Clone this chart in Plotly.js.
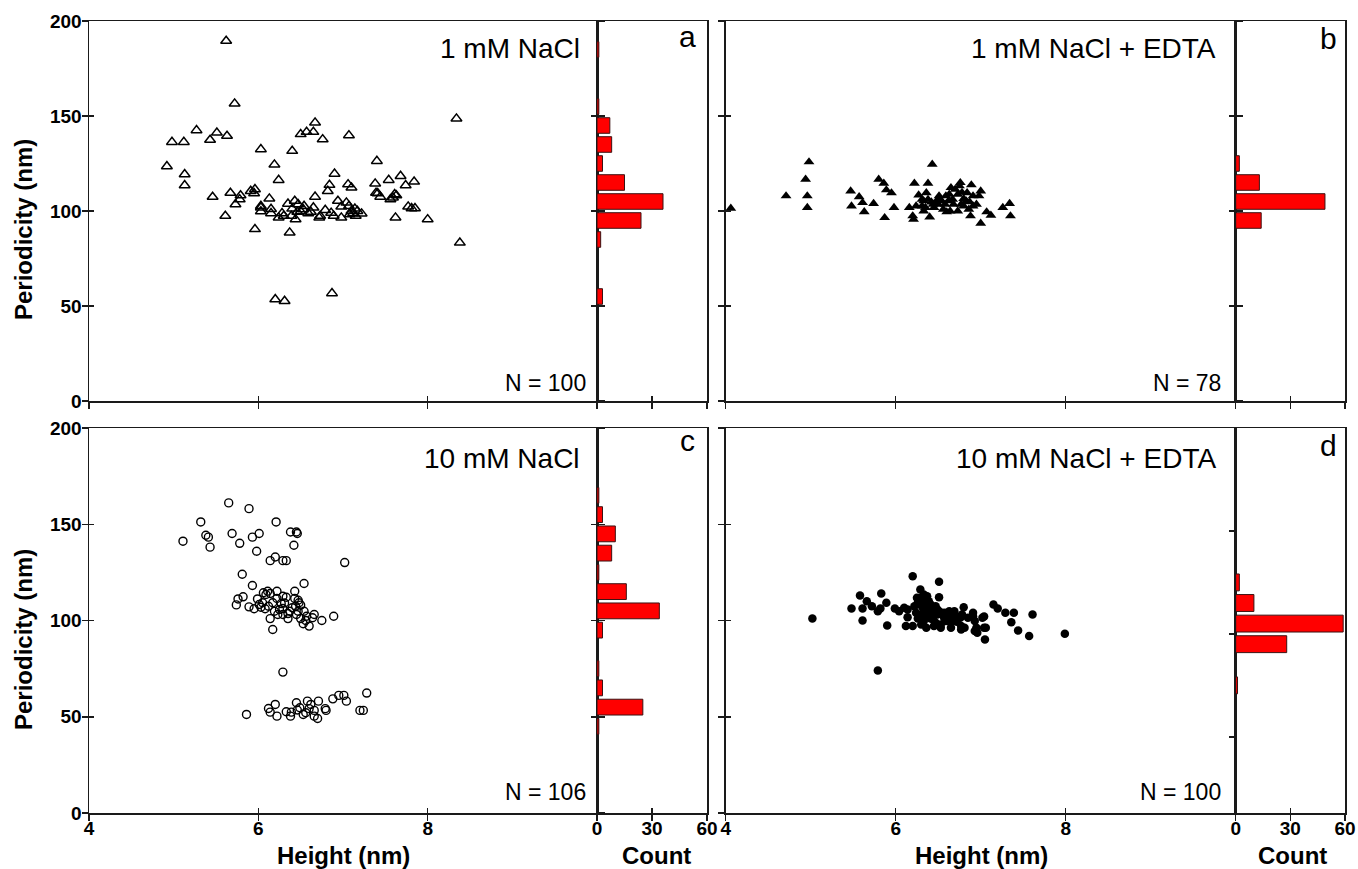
<!DOCTYPE html>
<html><head><meta charset="utf-8">
<script src="https://cdn.plot.ly/plotly-3.0.1.min.js"></script>
<style>html,body{margin:0;padding:0;background:#fff}#chart{width:1358px;height:869px}</style>
</head><body><div id="chart"></div>
<script>
// ---------- DATA ----------
// Panel a: 1 mM NaCl (open triangles)
const aHeight = [5.62,5.72,8.34,4.98,5.12,5.27,5.43,5.51,5.63,4.92,5.13,5.13,5.46,5.61,5.67,5.73,5.79,5.78,5.91,5.96,
  5.95,5.96,6.03,6.03,6.03,6.13,6.15,6.19,6.24,6.24,6.28,6.20,6.31,6.37,6.40,6.39,6.43,6.44,6.47,6.50,
  6.57,6.65,6.67,6.76,6.50,6.54,6.59,6.65,6.67,6.72,6.79,6.82,6.84,6.90,6.89,6.87,6.94,6.98,6.98,7.06,
  7.07,7.10,7.07,7.10,7.14,7.17,7.22,7.12,7.40,7.38,7.41,7.44,7.54,7.56,7.61,7.63,7.62,7.68,7.74,7.84,
  7.77,7.85,8.00,8.38,6.30,6.40,6.46,6.53,6.62,6.73,7.04,7.08,7.15,6.03,7.59,7.81,6.86,6.15,7.39,6.35];
const aPeriod = [189.5,156.5,148.6,136.3,136.3,142.5,137.4,141.2,139.5,123.5,119.3,113.5,107.4,97.4,109.5,103.5,108.2,106.1,110.5,111.4,
  109.3,90.4,132.5,102.6,99.8,106.5,98.8,124.4,116.3,96.5,98.8,53.5,52.6,88.6,131.6,97.4,105.3,95.6,103.5,140.4,
  141.6,141.6,146.5,137.7,99.8,102.6,98.8,101.8,107.5,96.5,100.5,110.5,113.7,119.6,97.4,56.7,105.3,102.3,96.5,114,
  139.8,112.3,102.6,100,101.2,100,98.6,98.8,126.3,114.4,109.3,107.5,116.3,106.1,108.8,108.2,96.5,118.4,113.5,115.4,
  102.3,101.4,95.6,83.3,97.4,101.2,99.5,100.9,99.5,97.4,104.4,98.2,97.4,101.8,107,101.4,99,101,109.5,103.8];

// Panel b: 1 mM NaCl + EDTA (filled triangles)
const bHeight = [4.06,4.71,4.98,4.94,4.96,4.96,5.47,5.48,5.57,5.61,5.63,5.74,5.80,5.86,5.89,5.95,5.87,5.98,6.16,6.20,
  6.21,6.22,6.27,6.31,6.33,6.36,6.38,6.40,6.43,6.44,6.48,6.52,6.56,6.59,6.62,6.64,6.67,6.70,6.73,6.76,
  6.78,6.80,6.83,6.86,6.88,6.89,6.91,6.95,7.00,7.00,7.07,7.12,7.26,7.34,7.35,6.31,6.35,6.38,6.50,6.54,
  6.58,6.60,6.68,6.73,6.75,6.84,6.87,6.98,6.42,6.24,6.65,6.77,6.45,6.51,6.33,6.63,6.80,6.91];
const bPeriod = [101.4,107.9,125.8,116.7,107.9,101.8,110.5,102.6,107.5,104.4,99.6,103.9,116.7,114.6,111.1,109.5,96.5,101.8,101.8,97.4,
  95.6,114.6,108.4,102.6,100,109.6,114.6,96.8,124.6,103.5,105.3,106.1,100.9,107.9,105.3,100,106.1,111.4,100,114.9,
  109.8,106.5,105.3,100.9,97.4,113.7,107.9,103.5,110.5,93.5,99.5,97.7,101.8,103.9,97.4,106.1,101.8,106.1,103.5,105.3,
  103.5,99.5,103.5,108.8,113.2,109.6,104.8,107.9,104.7,102.6,112.3,103.5,101.8,107.9,105.3,108.8,102.6,102.6];

// Panel c: 10 mM NaCl (open circles)
const cHeight = [5.65,5.89,5.32,6.21,5.11,5.38,5.41,5.43,5.69,5.78,5.93,6.01,6.38,6.45,6.46,6.42,5.98,6.14,6.20,6.29,
  6.33,7.02,5.81,5.93,6.54,5.76,5.82,5.74,5.89,5.95,5.99,6.06,6.11,6.14,6.22,6.05,6.08,6.12,6.17,6.22,
  6.23,6.14,6.17,6.27,6.29,6.33,6.35,6.35,6.40,6.43,6.43,6.45,6.48,6.50,6.50,6.53,6.57,6.60,6.66,6.75,
  6.89,6.56,6.29,5.86,6.12,6.14,6.20,6.22,6.38,6.39,6.45,6.46,6.53,6.58,6.60,6.66,6.66,6.70,6.71,6.79,
  6.80,6.88,6.95,7.01,7.04,7.28,7.20,7.24,6.33,6.56,6.62,6.49,6.09,6.29,6.47,6.01,6.25,6.31,6.37,6.44,
  6.47,6.54,6.64,6.03,6.19,6.29];
const cPeriod = [161.1,158.1,151.2,151.2,141.2,144.3,143.3,138.1,145.2,140.1,143.3,145.2,146,146,145.2,139.1,136,131.1,133,131.1,
  131.1,130.1,124,118.2,119.2,111.2,112.3,108.1,107.1,106.1,111.2,114.4,115.2,114,115.2,109.2,106.1,107.4,109.2,111.4,
  103.1,101,95.3,108.8,106.2,112.1,103.6,101,106.6,115.2,111.4,103.1,109.2,108,101,98.3,102.2,97.1,103.1,100,
  102.2,100,73.2,51.2,54.3,52.4,56.4,50.3,50.3,52.4,57.3,53.5,51.2,58.1,54.2,53.3,50.3,49.1,58.1,54.2,
  53.3,59.3,61.1,61.1,58.1,62.3,53.3,53.3,52.6,52.1,56.4,54.7,113.5,112.6,110.5,108.3,105.7,109.1,104.8,107.4,
  104.8,104.8,101.4,106.9,104.8,103.1];

// Panel d: 10 mM NaCl + EDTA (filled circles)
const dHeight = [5.02,5.79,6.20,6.51,5.48,5.58,5.61,5.61,5.66,5.72,5.79,5.83,5.82,5.89,5.90,5.99,6.04,6.10,6.14,6.12,
  6.20,6.22,6.26,6.29,6.28,6.30,6.33,6.34,6.35,6.36,6.39,6.41,6.44,6.47,6.51,6.49,6.53,6.57,6.63,6.65,
  6.69,6.76,6.77,6.80,6.81,6.91,6.93,6.96,7.04,7.06,7.05,7.15,7.20,7.29,7.39,7.36,7.44,7.57,7.61,7.99,
  6.24,6.32,6.37,6.41,6.45,6.55,6.59,6.61,6.72,6.95,7.02,6.28,6.33,6.39,6.47,6.33,6.14,6.51,6.69,6.85,
  6.25,6.37,6.45,6.65,6.77,6.93,7.04,6.53,6.30,6.30,6.35,6.43,6.49,6.57,6.69,6.78,6.91,6.26,6.41,6.61];
const dPeriod = [101,74,123,120.1,106.2,113,106.2,100,110,107.4,104.8,114,106.2,109.2,97.4,106.2,104.8,106.6,101.7,97.1,
  97.1,107.4,109.2,116.1,102.2,111.8,113.5,107.4,103.1,96.2,110,104.8,100.5,107.4,112.1,103.1,97.9,101.4,104.8,98.8,
  100.5,101.4,95.3,106.9,96.2,104,99.7,93.6,102.1,96.2,90.1,108.3,106.2,104,104,99.1,94.8,91.9,103.1,93.1,
  104,106.6,106.6,108.3,104.8,103.1,99.7,103.1,99.3,96.2,101.4,108.3,104.8,102.2,98.8,99.7,105.7,104.8,103.1,101.4,
  111.8,112.6,97.1,96.2,97.1,94.5,96.2,96.2,97.9,108.3,109.5,103.1,105.7,104,104.8,103.1,102.2,101,101,101];

// Histograms (bin centre in nm, count)
const aBins = [185,155,145,135,125,115,105,95,85,55];
const aCounts = [1,1,7,8,3,15,36,24,2,3];
const bBins = [125,115,105,95];
const bCounts = [2,13,49,14];
const cBins = [165,155,145,135,125,115,105,95,75,65,55,45];
const cCounts = [1,3,10,8,1,16,34,3,1,3,25,1];
const dBins = [125,115,105,95,75];
const dCounts = [2,10,59,28,1];

const panelTitles = ['1 mM NaCl','1 mM NaCl + EDTA','10 mM NaCl','10 mM NaCl + EDTA'];
const panelN = ['N = 100','N = 78','N = 106','N = 100'];
const panelLetters = ['a','b','c','d'];
const heightTicks = [4,6,8];
const periodTicks = [0,50,100,150,200];
const countTicks = [0,30,60];

// ---------- LAYOUT ----------
const W=1358,H=869;
const fx = px => px/W, fy = py => 1-py/H;
const FONT='Liberation Sans, Arial, Helvetica, sans-serif';
const LC='#1a1a1a';
const tickFont={family:FONT,size:19,color:'#000',weight:'bold'};

const colsPx=[{s:[89,597],h:[597,707]},{s:[725.7,1235.7],h:[1235.7,1345]}];
const rowsPx=[[21,401],[428,813]];

const scatterData=[[aHeight,aPeriod],[bHeight,bPeriod],[cHeight,cPeriod],[dHeight,dPeriod]];
const histData=[[aBins,aCounts],[bBins,bCounts],[cBins,cCounts],[dBins,dCounts]];
const markers=[
  {symbol:'triangle-up-open',size:9.5,color:'#000',line:{color:'#000',width:1.5}},
  {symbol:'triangle-up',size:9.5,color:'#000',line:{width:0}},
  {symbol:'circle-open',size:8,color:'#000',line:{color:'#000',width:1.4}},
  {symbol:'circle',size:8.5,color:'#000',line:{width:0}}
];

const traces=[]; const layout={
  width:W,height:H,margin:{l:0,r:0,t:0,b:0},showlegend:false,
  paper_bgcolor:'#fff',plot_bgcolor:'rgba(0,0,0,0)',annotations:[]
};
const ann=layout.annotations;
const base={showline:true,linecolor:LC,linewidth:1.5,ticks:'outside',ticklen:6,tickwidth:1.5,tickcolor:LC,
  showgrid:false,zeroline:false,tickfont:tickFont,fixedrange:true};
const overlayBase={showline:false,ticks:'inside',ticklen:5,tickwidth:1.5,tickcolor:LC,showticklabels:false,
  showgrid:false,zeroline:false,fixedrange:true};
let extra=9;
const aid = n => (n===1?'':String(n));

for(let p=0;p<4;p++){
  const row=Math.floor(p/2), col=p%2;
  const sx=2*p+1, hx=2*p+2;
  const sxId='x'+aid(sx), syId='y'+aid(sx);
  const hxId='x'+hx, hyId='y'+hx;
  const yDom=[fy(rowsPx[row][1]),fy(rowsPx[row][0])];
  const sDom=[fx(colsPx[col].s[0]),fx(colsPx[col].s[1])];
  const hDom=[fx(colsPx[col].h[0]),fx(colsPx[col].h[1])];
  layout['xaxis'+aid(sx)]=Object.assign({},base,{domain:sDom,range:[4,10],anchor:syId,mirror:true,
    tickmode:'array',tickvals:heightTicks,showticklabels:row===1,ticklabelstandoff:-8});
  layout['yaxis'+aid(sx)]=Object.assign({},base,{domain:yDom,range:[0,200],anchor:sxId,
    mirror:(p===3?true:'ticks'),tickmode:'array',tickvals:periodTicks,showticklabels:col===0,ticklabelstandoff:-4});
  layout['xaxis'+hx]=Object.assign({},base,{domain:hDom,range:[0,60],anchor:hyId,mirror:true,
    tickmode:'array',tickvals:countTicks,showticklabels:row===1,ticklabelstandoff:-8});
  layout['yaxis'+hx]=Object.assign({},base,{domain:yDom,range:(p===3?[13,200]:[0,200]),anchor:hxId,
    mirror:true,tickmode:'array',tickvals:[50,100,150],showticklabels:false,ticklen:5});

  // overlay axes carrying the inner half of the crossing ticks
  const ox=extra++, oy=extra++, ohx=extra++;
  layout['xaxis'+ox]=Object.assign({},overlayBase,{overlaying:sxId,anchor:syId,range:[4,10],tickmode:'array',tickvals:heightTicks,side:'bottom'});
  layout['yaxis'+oy]=Object.assign({},overlayBase,{overlaying:syId,anchor:sxId,range:[0,200],tickmode:'array',tickvals:periodTicks,side:'left'});
  layout['xaxis'+ohx]=Object.assign({},overlayBase,{overlaying:hxId,anchor:hyId,range:[0,60],tickmode:'array',tickvals:countTicks,side:'bottom'});
  traces.push({type:'scatter',mode:'markers',x:[],y:[],xaxis:'x'+ox,yaxis:'y'+oy,hoverinfo:'skip'});
  traces.push({type:'scatter',mode:'markers',x:[],y:[],xaxis:'x'+ohx,yaxis:hyId,hoverinfo:'skip'});

  traces.push({type:'scatter',mode:'markers',x:scatterData[p][0],y:scatterData[p][1],
    xaxis:sxId,yaxis:syId,marker:markers[p],cliponaxis:false,hoverinfo:'x+y'});
  traces.push({type:'bar',orientation:'h',y:histData[p][0],x:histData[p][1],width:8.2,
    xaxis:hxId,yaxis:hyId,marker:{color:'#ff0000',line:{color:'#3b1212',width:1}}});

  const titleY=[48,458][row], nY=[383,792][row];
  const titleRight=[582,1218][col], nRight=[588,1223][col];
  const letterX=[687,1328][col], letterY=[[36,38],[440,445]][row][col];
  ann.push({xref:'paper',yref:'paper',x:fx(titleRight),y:fy(titleY),xanchor:'right',yanchor:'middle',
    text:panelTitles[p],showarrow:false,font:{family:FONT,size:28,color:'#000'}});
  ann.push({xref:'paper',yref:'paper',x:fx(nRight),y:fy(nY),xanchor:'right',yanchor:'middle',
    text:panelN[p],showarrow:false,font:{family:FONT,size:23,color:'#000'}});
  ann.push({xref:'paper',yref:'paper',x:fx(letterX),y:fy(letterY),xanchor:'center',yanchor:'middle',
    text:panelLetters[p],showarrow:false,font:{family:FONT,size:30,color:'#000'}});
}
// axis titles
const tFont={family:FONT,size:24,color:'#000',weight:'bold'};
ann.push({xref:'paper',yref:'paper',x:fx(23),y:fy(230),textangle:-90,xanchor:'center',yanchor:'middle',text:'Periodicity (nm)',showarrow:false,font:tFont});
ann.push({xref:'paper',yref:'paper',x:fx(23),y:fy(640),textangle:-90,xanchor:'center',yanchor:'middle',text:'Periodicity (nm)',showarrow:false,font:tFont});
ann.push({xref:'paper',yref:'paper',x:fx(343),y:fy(855),xanchor:'center',yanchor:'middle',text:'Height (nm)',showarrow:false,font:tFont});
ann.push({xref:'paper',yref:'paper',x:fx(981),y:fy(855),xanchor:'center',yanchor:'middle',text:'Height (nm)',showarrow:false,font:tFont});
ann.push({xref:'paper',yref:'paper',x:fx(656),y:fy(855),xanchor:'center',yanchor:'middle',text:'Count',showarrow:false,font:tFont});
ann.push({xref:'paper',yref:'paper',x:fx(1292),y:fy(855),xanchor:'center',yanchor:'middle',text:'Count',showarrow:false,font:tFont});

Plotly.newPlot('chart',traces,layout,{displayModeBar:false,staticPlot:true});
</script></body></html>
